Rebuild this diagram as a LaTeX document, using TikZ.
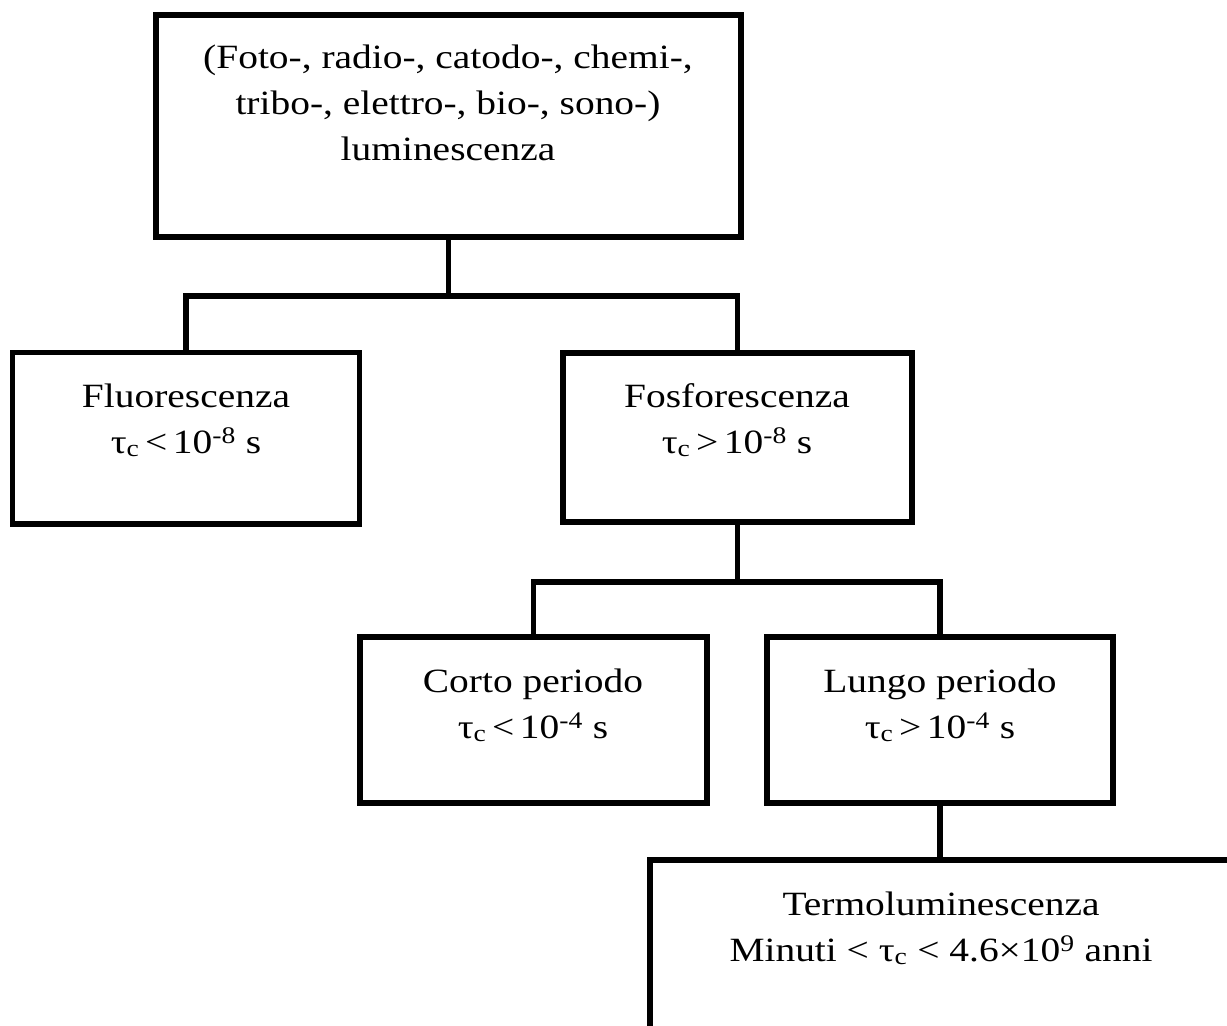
\documentclass[tikz,border=0pt]{standalone}
\usepackage{fontspec}
\setmainfont{Liberation Serif}[FakeStretch=1.16]
\newcommand{\tauc}{τ\textsubscript{c}}
\begin{document}
\begin{tikzpicture}[x=1pt,y=-1pt,
  box/.style={draw, line width=5.5pt, inner sep=0pt, fill=white},
  txt/.style={anchor=base, inner sep=0pt, font=\fontsize{34}{46}\selectfont},
  link/.style={line width=5.5pt}]
\useasboundingbox (0,0) rectangle (1227,1026);

% boxes
\node[box, minimum width=585pt, minimum height=222pt] (lum) at (448.5,126) {};
\node[box, minimum width=347pt, minimum height=171.5pt] (fluo) at (186,438.25) {};
\node[box, minimum width=349pt, minimum height=169pt] (fosf) at (737.5,437.5) {};
\node[box, minimum width=347pt, minimum height=166pt] (corto) at (533.5,720) {};
\node[box, minimum width=346pt, minimum height=166pt] (lungo) at (940,720) {};
\node[box, minimum width=582pt, minimum height=185pt] (termo) at (941,952.5) {};

% junction levels of the tree
\coordinate (j1) at (0,296);
\coordinate (j2) at (0,582);

% connectors
\draw[link] (lum.south) -- (lum.south |- j1);
\draw[link] (fluo.north) -- (fluo.north |- j1) -- (fosf.north |- j1) -- (fosf.north);
\draw[link] (fosf.south) -- (fosf.south |- j2);
\draw[link] (corto.north) -- (corto.north |- j2) -- (lungo.north |- j2) -- (lungo.north);
\draw[link] (lungo.south) -- (lungo.south |- termo.north);

% labels
\node[txt] (lum1) at (448,68) {(Foto-, radio-, catodo-, chemi-,};
\node[txt] (lum2) at (448,114) {tribo-, elettro-, bio-, sono-)};
\node[txt] (lum3) at (448,160) {luminescenza};

\node[txt] (fluo1) at (186,407) {Fluorescenza};
\node[txt] (fluo2) at (186,453) {\tauc\,<\,10\textsuperscript{-8} s};

\node[txt] (fosf1) at (737,407) {Fosforescenza};
\node[txt] (fosf2) at (737,453) {\tauc\,>\,10\textsuperscript{-8} s};

\node[txt] (corto1) at (533,692) {Corto periodo};
\node[txt] (corto2) at (533,738) {\tauc\,<\,10\textsuperscript{-4} s};

\node[txt] (lungo1) at (940,692) {Lungo periodo};
\node[txt] (lungo2) at (940,738) {\tauc\,>\,10\textsuperscript{-4} s};

\node[txt] (termo1) at (941,915) {Termoluminescenza};
\node[txt] (termo2) at (941,961) {Minuti < \tauc\ < 4.6×10\textsuperscript{9} anni};
\end{tikzpicture}
\end{document}
